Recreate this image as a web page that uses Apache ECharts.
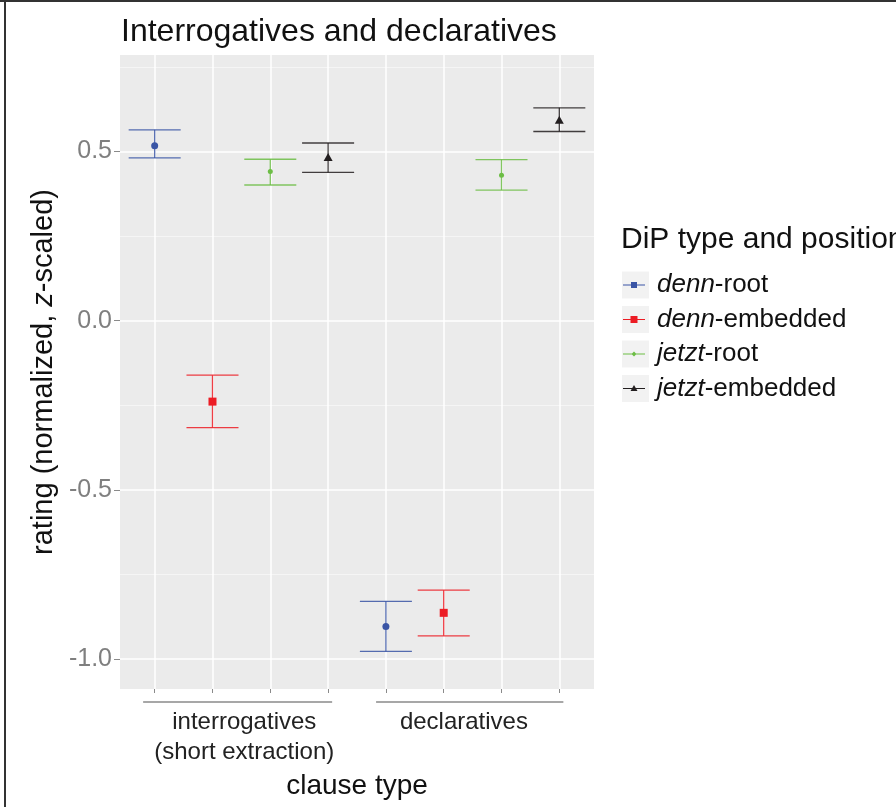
<!DOCTYPE html>
<html>
<head>
<meta charset="utf-8">
<script src="https://cdn.jsdelivr.net/npm/echarts@6/dist/echarts.min.js"></script>
<style>
  html, body { margin: 0; padding: 0; background: #fff; }
  #chart { width: 896px; height: 807px; }
</style>
</head>
<body>
<div id="chart"></div>
<script>
// x position, mean, lower, upper
const dennRoot = [[1, 0.517, 0.481, 0.564], [5, -0.903, -0.977, -0.829]];
const dennEmbedded = [[2, -0.239, -0.316, -0.161], [6, -0.863, -0.931, -0.796]];
const jetztRoot = [[3, 0.441, 0.401, 0.477], [7, 0.430, 0.386, 0.476]];
const jetztEmbedded = [[4, 0.484, 0.438, 0.525], [8, 0.594, 0.559, 0.629]];

const positions = [1, 2, 3, 4, 5, 6, 7, 8];
const yTicks = [-1.0, -0.5, 0.0, 0.5];
const yMinor = [-0.75, -0.25, 0.25, 0.75];
const groupLabels = ['interrogatives\n(short extraction)', 'declaratives'];
const groupLabelPos = [2.55, 6.35];
const groupSpans = [[0.8, 4.07], [4.83, 8.07]];
const whiskerWidth = 0.9;

const FONT = '"Liberation Sans", Arial, sans-serif';

const seriesDefs = [
  { name: 'denn-root', data: dennRoot, color: '#3a55a5', symbol: 'circle', size: 7,
    icon: 'path://M0,0h0.01v0.01h-0.01Z M30,16h-0.01v-0.01h0.01Z M1,7.4h22v1.2h-22Z M9,5h6v6h-6Z' },
  { name: 'denn-embedded', data: dennEmbedded, color: '#ec1c24', symbol: 'rect', size: 8,
    icon: 'path://M0,0h0.01v0.01h-0.01Z M30,16h-0.01v-0.01h0.01Z M1,7.4h22v1.2h-22Z M8.5,4.5h7v7h-7Z' },
  { name: 'jetzt-root', data: jetztRoot, color: '#6cbd45', symbol: 'circle', size: 5,
    icon: 'path://M0,0h0.01v0.01h-0.01Z M30,16h-0.01v-0.01h0.01Z M1,7.4h22v1.2h-22Z M12,5.5L14.5,8L12,10.5L9.5,8Z' },
  { name: 'jetzt-embedded', data: jetztEmbedded, color: '#231f20', symbol: 'triangle', size: [9, 8],
    icon: 'path://M0,0h0.01v0.01h-0.01Z M30,16h-0.01v-0.01h0.01Z M1,7.4h22v1.2h-22Z M12,4.5L15.5,10.5L8.5,10.5Z' }
];

function renderErrorBar(params, api) {
  const x = api.value(0);
  const top = api.coord([x, api.value(3)]);
  const bot = api.coord([x, api.value(2)]);
  const half = api.size([whiskerWidth, 0])[0] / 2;
  const style = { stroke: api.visual('color'), lineWidth: 1.3, opacity: 0.85 };
  return {
    type: 'group',
    children: [
      { type: 'line', shape: { x1: top[0], y1: top[1], x2: bot[0], y2: bot[1] }, style: style },
      { type: 'line', shape: { x1: top[0] - half, y1: top[1], x2: top[0] + half, y2: top[1] }, style: style },
      { type: 'line', shape: { x1: bot[0] - half, y1: bot[1], x2: bot[0] + half, y2: bot[1] }, style: style }
    ]
  };
}

const series = [];
seriesDefs.forEach(function (d) {
  series.push({
    name: d.name,
    type: 'custom',
    renderItem: renderErrorBar,
    data: d.data,
    encode: { x: 0, y: [1, 2, 3] },
    itemStyle: { color: d.color },
    z: 2
  });
  series.push({
    name: d.name,
    type: 'scatter',
    data: d.data.map(function (r) { return [r[0], r[1]]; }),
    symbol: d.symbol,
    symbolSize: d.size,
    itemStyle: { color: d.color, opacity: 1 },
    z: 3
  });
});

const chart = echarts.init(document.getElementById('chart'));

const option = {
  backgroundColor: '#fff',
  animation: false,
  textStyle: { fontFamily: FONT },
  title: [
    { text: 'Interrogatives and declaratives', left: 121, top: 16, padding: 0,
      textStyle: { fontSize: 32, fontWeight: 'normal', color: '#111', fontFamily: FONT } },
    { text: 'DiP type and position', left: 621, top: 225, padding: 0,
      textStyle: { fontSize: 30, fontWeight: 'normal', color: '#111', fontFamily: FONT } }
  ],
  grid: { left: 120, right: 302, top: 55, bottom: 118, show: true, backgroundColor: '#ebebeb', borderWidth: 0 },
  legend: {
    orient: 'vertical',
    left: 622,
    top: 271.5,
    padding: 0,
    itemGap: 7.5,
    itemWidth: 30,
    itemHeight: 16,
    data: seriesDefs.map(function (d) { return { name: d.name, icon: d.icon }; }),
    formatter: function (name) {
      const i = name.indexOf('-');
      return '{i|' + name.slice(0, i) + '}' + name.slice(i);
    },
    textStyle: {
      fontSize: 26, color: '#111', lineHeight: 27, fontFamily: FONT,
      rich: { i: { fontStyle: 'italic', fontSize: 26, lineHeight: 27, color: '#111', fontFamily: FONT } }
    }
  },
  xAxis: [
    {
      type: 'value', min: 0.4, max: 8.6, position: 'bottom',
      axisLine: { show: false, onZero: false },
      axisTick: { show: true, length: 4, customValues: positions, lineStyle: { color: '#8a8a8a', width: 1 } },
      axisLabel: { show: false },
      splitLine: { show: true, lineStyle: { color: '#ffffff', width: 1.5 } }
    },
    {
      type: 'value', min: 0.4, max: 8.6, position: 'bottom',
      axisLine: { show: false, onZero: false },
      axisTick: { show: false },
      splitLine: { show: false },
      axisLabel: {
        show: true, margin: 18, fontSize: 24, lineHeight: 30, color: '#222', fontFamily: FONT,
        customValues: groupLabelPos,
        formatter: function (v) {
          const k = groupLabelPos.indexOf(v);
          return k >= 0 ? groupLabels[k] : '';
        }
      },
      name: 'clause type', nameLocation: 'middle', nameGap: 83,
      nameTextStyle: { fontSize: 28, color: '#111', fontFamily: FONT }
    }
  ],
  yAxis: [
    {
      type: 'value', min: -1.088, max: 0.785,
      axisLine: { show: false, onZero: false },
      axisTick: { show: true, length: 6, customValues: yTicks, lineStyle: { color: '#8a8a8a', width: 1 } },
      axisLabel: {
        show: true, margin: 8, fontSize: 25, color: '#7f7f7f', fontFamily: FONT,
        customValues: yTicks,
        formatter: function (v) { return v.toFixed(1); }
      },
      splitLine: { show: true, lineStyle: { color: '#ffffff', width: 1.5 } },
      name: 'rating (normalized, {i|z}-scaled)', nameLocation: 'middle', nameGap: 62,
      nameTextStyle: {
        fontSize: 29, color: '#111', fontFamily: FONT,
        rich: { i: { fontStyle: 'italic', fontSize: 29, color: '#111', fontFamily: FONT } }
      }
    },
    {
      type: 'value', min: -1.088, max: 0.785, position: 'left',
      axisLine: { show: false, onZero: false },
      axisTick: { show: false, customValues: yMinor },
      axisLabel: { show: false, customValues: yMinor },
      splitLine: { show: true, lineStyle: { color: '#f5f5f5', width: 1 } }
    }
  ],
  series: series
};

chart.setOption(option);

// legend key backgrounds, group underlines, outer frame
const graphics = [
  { type: 'line', shape: { x1: 0, y1: 1, x2: 896, y2: 1 }, style: { stroke: '#333', lineWidth: 2 }, silent: true },
  { type: 'line', shape: { x1: 5, y1: 0, x2: 5, y2: 807 }, style: { stroke: '#333', lineWidth: 2 }, silent: true }
];
seriesDefs.forEach(function (d, i) {
  graphics.push({ type: 'rect', left: 622, top: 271.5 + i * 34.5, z: -1,
    shape: { width: 27, height: 27 }, style: { fill: '#f2f2f2' }, silent: true });
});
groupSpans.forEach(function (s) {
  const a = chart.convertToPixel({ xAxisIndex: 0 }, s[0]);
  const b = chart.convertToPixel({ xAxisIndex: 0 }, s[1]);
  graphics.push({ type: 'line', shape: { x1: a, y1: 702, x2: b, y2: 702 },
    style: { stroke: '#8a8a8a', lineWidth: 1.5 }, silent: true });
});
chart.setOption({ graphic: graphics });
</script>
</body>
</html>
